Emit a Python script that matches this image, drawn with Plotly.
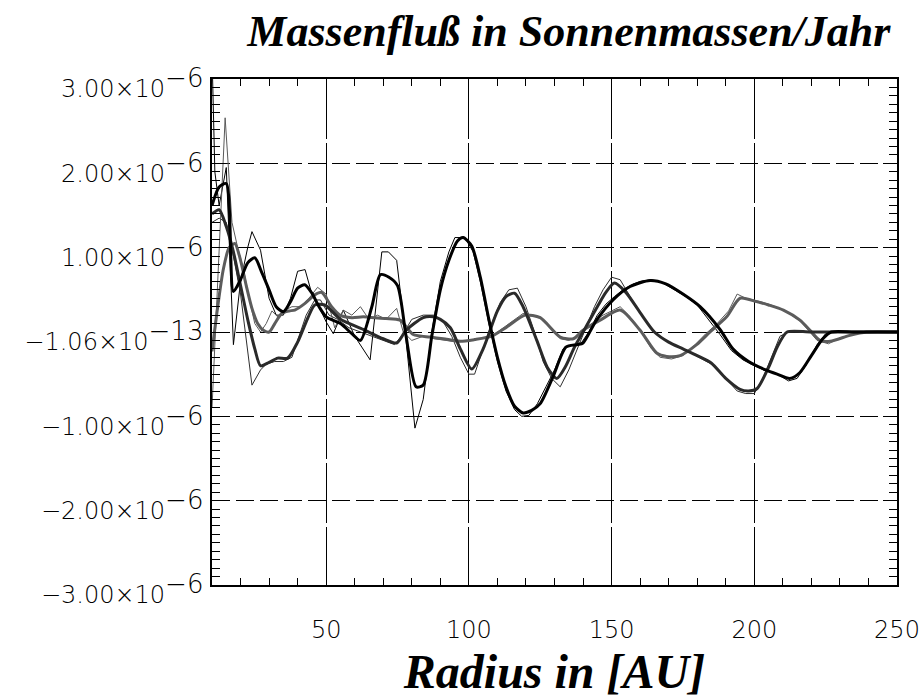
import plotly.graph_objects as go

UNIT = 1e-6  # values below are in units of 1e-6 solar masses / year

# ---- thick (smoothed) series ----
a_x = [10, 12.5, 15, 17.5, 20, 22.5, 25, 27.5, 30, 32.5, 35, 37.5, 40, 42.5, 45, 47.5, 50, 55, 59, 62,
       66, 69, 72, 75, 78, 81.5, 84, 87, 90, 93, 96, 98, 101, 104, 107, 110, 113, 116, 119, 122,
       125, 129.5, 134, 138, 140, 144.5, 150.5, 156.5, 163.5, 169, 175, 181, 188, 192.5, 198, 204, 208,
       212.5, 216, 220, 224, 227, 235, 250]
a_y = [1.5, 1.72, 1.76, 0.48, 0.62, 0.82, 0.88, 0.7, 0.5, 0.3, 0.24, 0.36, 0.52, 0.56, 0.46, 0.3, 0.18, 0.1, -0.02, -0.1,
       0.3, 0.68, 0.65, 0.55, -0.05, -0.65, -0.63, -0.05, 0.5, 0.85, 1.08, 1.12, 1.02, 0.65, 0.15, -0.3, -0.65, -0.88, -0.96, -0.93,
       -0.85, -0.53, -0.18, -0.15, -0.13, 0.13, 0.38, 0.54, 0.61, 0.57, 0.45, 0.3, 0.03, -0.2, -0.35, -0.45, -0.5,
       -0.55, -0.48, -0.28, -0.08, 0.0, 0.0, 0.0]

b_x = [10, 12.5, 15, 17.5, 20, 22.5, 25, 27, 30, 33, 36.5, 40, 43.5, 46, 49.5, 55, 63, 70, 74.7, 78,
       84, 87.5, 90, 93.5, 97, 101, 105, 110, 113, 116, 119, 123.8, 127.5, 130.8, 134, 137, 141, 145, 148, 151,
       155, 160, 165, 170, 175, 180, 185, 190, 195, 198, 201, 205, 208, 211.5, 220, 250]
b_y = [1.4, 1.45, 1.25, 0.95, 0.55, 0.15, -0.2, -0.4, -0.36, -0.31, -0.31, -0.12, 0.16, 0.32, 0.32, 0.15, 0.03, -0.08, -0.13, 0.02,
       0.17, 0.18, 0.15, 0.05, -0.2, -0.44, -0.2, 0.25, 0.42, 0.46, 0.3, -0.1, -0.42, -0.55, -0.4, -0.18, 0.06, 0.3, 0.47, 0.58,
       0.47, 0.23, 0.0, -0.12, -0.2, -0.28, -0.37, -0.55, -0.68, -0.7, -0.67, -0.42, -0.18, 0.0, 0.0, 0.0]

c_x = [10, 12, 14, 16, 18, 20, 22, 24, 26, 28, 30, 32, 34.4, 37, 39, 42.6, 46, 48.4, 51.9, 54.8,
       59, 63, 67, 71, 75.9, 80.5, 86.4, 91, 96.9, 102, 108, 113.3, 119.7, 125, 132, 136.6, 140, 146, 153, 160,
       165.8, 169.3, 174, 179.8, 184.5, 190.3, 195, 200.8, 205, 210.2, 216, 219.5, 223, 226.6, 233.5, 239.4, 250]
c_y = [-0.23, 0.3, 0.75, 1.0, 1.05, 0.85, 0.55, 0.28, 0.1, 0.02, 0.0, 0.1, 0.22, 0.25, 0.26, 0.34, 0.44, 0.47, 0.3, 0.2,
       0.17, 0.18, 0.17, 0.16, 0.14, -0.03, -0.06, -0.08, -0.11, -0.09, -0.05, 0.06, 0.2, 0.17, -0.06, -0.08, 0.02, 0.14, 0.26, 0.02,
       -0.25, -0.29, -0.28, -0.15, 0.0, 0.18, 0.4, 0.36, 0.32, 0.26, 0.14, 0.02, -0.1, -0.11, -0.04, 0.0, 0.0]

# ---- thin (raw) series ----
at_x = [10, 11, 12.5, 15, 17.5, 20, 22.5, 24, 27, 30, 32.5, 35, 37.5, 40, 42.6, 45, 47.5, 50, 52.5, 56,
        60, 65.4, 69.5, 71.8, 74.7, 78, 81.1, 84, 87, 90, 93, 95.1, 98.6, 101.5, 104, 107, 110, 113, 116, 118.5,
        121, 124, 127, 130, 133, 136, 139, 142, 145, 148, 151, 154, 157, 160, 164, 168, 172, 176, 180, 184,
        188, 192, 196, 200, 204, 208, 212, 215, 218, 222, 225, 228, 250]
at_y = [3.3, 1.9, 1.5, 1.95, -0.15, 0.6, 1.0, 1.19, 0.97, 0.4, 0.2, 0.2, 0.4, 0.72, 0.74, 0.45, 0.3, 0.12, -0.02, 0.26,
        -0.05, -0.33, 0.95, 0.95, 0.85, -0.1, -1.14, -0.8, 0.0, 0.6, 0.95, 1.12, 1.12, 0.95, 0.6, 0.1, -0.35, -0.7, -0.92, -1.0,
        -0.99, -0.85, -0.65, -0.45, -0.2, -0.15, -0.15, 0.0, 0.2, 0.33, 0.42, 0.5, 0.56, 0.6, 0.62, 0.58, 0.5, 0.42, 0.32, 0.15,
        -0.03, -0.22, -0.33, -0.4, -0.46, -0.5, -0.58, -0.55, -0.4, -0.15, -0.02, 0.0, 0.0]

bt_x = [10, 12.5, 15, 17.5, 20, 22, 24, 27, 29, 32, 35, 38, 40, 43, 46, 48, 51, 54, 58, 62,
        66, 70, 74, 77, 80, 84, 88, 91, 94, 97, 100, 102, 105, 108, 111, 114, 117, 120, 123, 126,
        129, 132, 135, 138, 141, 144, 147, 150, 153, 156, 160, 165, 170, 175, 180, 185, 190, 194, 197, 200,
        203, 206, 209, 212, 250]
bt_y = [1.3, 1.35, 1.3, 0.9, 0.45, -0.1, -0.63, -0.45, -0.38, -0.35, -0.35, -0.3, -0.1, 0.2, 0.38, 0.38, 0.2, 0.15, 0.05, 0.0,
        -0.05, -0.1, -0.15, -0.02, 0.15, 0.2, 0.2, 0.12, -0.05, -0.3, -0.5, -0.5, -0.2, 0.1, 0.35, 0.5, 0.52, 0.3, 0.0, -0.35,
        -0.55, -0.65, -0.45, -0.2, 0.05, 0.3, 0.5, 0.65, 0.62, 0.45, 0.22, 0.0, -0.12, -0.2, -0.29, -0.38, -0.55, -0.7, -0.73, -0.73,
        -0.55, -0.3, -0.05, 0.0, 0.0]

ct_x = [10, 12, 14.6, 17, 19, 21, 23, 25, 27, 29, 31, 33, 35, 38, 41, 44, 47, 50, 53, 56,
        59, 62, 65, 68, 71, 74.7, 77, 80, 84, 88, 92, 96, 100, 104, 108, 112, 116, 119, 122, 126,
        129, 132, 135, 138, 141, 144, 147, 150, 153, 156, 160, 164, 167, 171, 175, 179, 183, 187, 191, 194,
        197, 201, 206, 211, 216, 219, 222, 226, 230, 236, 240, 250]
ct_y = [-0.9, 0.6, 2.54, 1.3, 1.0, 0.75, 0.4, 0.1, 0.0, 0.1, 0.25, 0.18, 0.25, 0.3, 0.3, 0.4, 0.53, 0.45, 0.05, 0.26,
        0.2, 0.3, 0.15, 0.2, 0.15, 0.28, 0.0, -0.1, -0.05, -0.08, -0.1, -0.12, -0.1, -0.08, -0.05, 0.05, 0.15, 0.22, 0.2, 0.15,
        0.05, -0.08, -0.1, -0.05, 0.05, 0.12, 0.2, 0.25, 0.3, 0.2, 0.02, -0.2, -0.3, -0.32, -0.28, -0.16, -0.02, 0.1, 0.25, 0.45,
        0.4, 0.37, 0.32, 0.25, 0.13, 0.02, -0.1, -0.14, -0.07, -0.02, 0.0, 0.0]

y_tickvals = [-3, -2, -1, 0, 1, 2, 3]
y_mantissas = ["\u22123.00", "\u22122.00", "\u22121.00", "\u22121.06", "1.00", "2.00", "3.00"]
y_exponents = ["\u22126", "\u22126", "\u22126", "\u221213", "\u22126", "\u22126", "\u22126"]
y_ticktext = [f"{m}\u00d710<sup><span style='font-size:26px'>{e}</span></sup>"
              for m, e in zip(y_mantissas, y_exponents)]
x_tickvals = [50, 100, 150, 200, 250]

fig = go.Figure()

thin = [(at_x, at_y, "#000000"), (bt_x, bt_y, "#2e2e2e"), (ct_x, ct_y, "#5a5a5a")]
thick = [(c_x, c_y, "#5c5c5c"), (b_x, b_y, "#2a2a2a"), (a_x, a_y, "#000000")]

for xs, ys, col in thin:
    fig.add_trace(go.Scatter(x=xs, y=[v * UNIT for v in ys], mode="lines",
                             line=dict(color=col, width=1), showlegend=False, hoverinfo="skip"))
for xs, ys, col in thick:
    fig.add_trace(go.Scatter(x=xs, y=[v * UNIT for v in ys], mode="lines",
                             line=dict(color=col, width=3, shape="spline", smoothing=0.7),
                             showlegend=False, hoverinfo="skip"))

tickfont = dict(family="DejaVu Sans", size=24, color="#000000", weight=200)
serif = dict(family="Liberation Serif", color="#000000", weight="bold", style="italic")

fig.update_layout(
    width=924, height=698,
    margin=dict(l=212, r=27, t=79, b=113, autoexpand=False),
    paper_bgcolor="white", plot_bgcolor="white",
    title=dict(text="Massenflu\u00df in Sonnenmassen/Jahr", font=dict(size=44, **serif),
               x=0.521, xref="paper", xanchor="center", y=1 - 31 / 698, yref="container", yanchor="middle"),
    xaxis=dict(range=[10, 250], tickvals=x_tickvals, ticktext=[str(v) for v in x_tickvals],
               automargin=False,
               ticks="inside", ticklen=14, tickcolor="black", tickwidth=1,
               showline=True, linecolor="black", linewidth=1.5, mirror="ticks",
               showgrid=True, gridcolor="black", gridwidth=1, griddash="60px,4px",
               zeroline=False, tickfont=tickfont, ticklabelstandoff=22,
               minor=dict(dtick=10, tick0=0, ticks="inside", ticklen=7, tickcolor="black", showgrid=False),
               title=dict(text="Radius in [AU]", font=dict(size=48, **serif), standoff=16)),
    yaxis=dict(range=[-3 * UNIT, 3 * UNIT], tickvals=[v * UNIT for v in y_tickvals], ticktext=y_ticktext,
               automargin=False,
               ticks="inside", ticklen=14, tickcolor="black", tickwidth=1,
               showline=True, linecolor="black", linewidth=1.5, mirror="ticks",
               showgrid=True, gridcolor="black", gridwidth=1, griddash="18px,6px",
               zeroline=False, tickfont=tickfont, ticklabelstandoff=2, ticklabelshift=10,
               minor=dict(dtick=0.1 * UNIT, tick0=0, ticks="inside", ticklen=8, tickcolor="black", showgrid=False)),
)

fig.write_html("out.html")
